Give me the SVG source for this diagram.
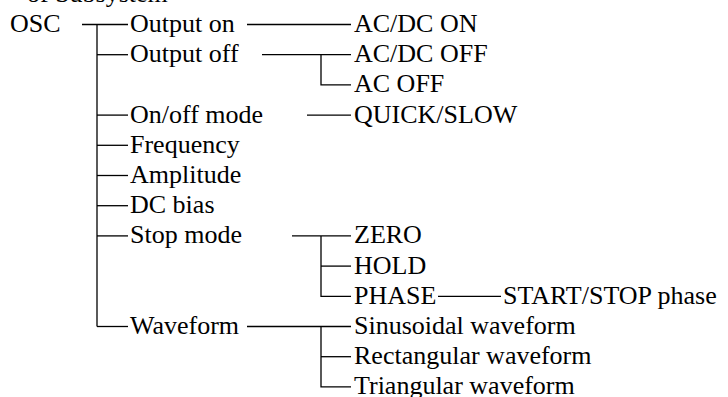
<svg xmlns="http://www.w3.org/2000/svg" width="728" height="397" viewBox="0 0 728 397">
<style>
.t{font-family:'Liberation Serif','Times New Roman',serif;font-size:26px;fill:#000}
.c line,.c path{stroke:#000;stroke-width:1.3;fill:none}
</style>
<rect width="728" height="397" fill="#fff"/>
<g class="t">
<text x="27" y="1.5">of Subsystem</text>
</g>
<g class="c" id="connectors">
<line x1="82" y1="24.5" x2="128" y2="24.5"/>
<line x1="97" y1="24.5" x2="97" y2="326.5"/>
<line x1="97" y1="54.7" x2="128" y2="54.7"/>
<line x1="97" y1="115.1" x2="128" y2="115.1"/>
<line x1="97" y1="145.3" x2="128" y2="145.3"/>
<line x1="97" y1="175.5" x2="128" y2="175.5"/>
<line x1="97" y1="205.7" x2="128" y2="205.7"/>
<line x1="97" y1="235.9" x2="128" y2="235.9"/>
<line x1="97" y1="326.5" x2="128" y2="326.5"/>
<line x1="247" y1="24.5" x2="351" y2="24.5"/>
<line x1="262" y1="54.7" x2="351" y2="54.7"/>
<path d="M321 54.7V84.9H351"/>
<line x1="307" y1="115.1" x2="351" y2="115.1"/>
<line x1="292" y1="235.9" x2="351" y2="235.9"/>
<path d="M321 235.9V296.3H351"/>
<line x1="321" y1="266.1" x2="351" y2="266.1"/>
<line x1="438" y1="296.3" x2="501" y2="296.3"/>
<line x1="247" y1="326.5" x2="351" y2="326.5"/>
<path d="M321 326.5V386.9H351"/>
<line x1="321" y1="356.7" x2="351" y2="356.7"/>
</g>
<g class="t">
<g id="osc"><text x="10" y="32">OSC</text></g>
<g id="output-on"><text x="130" y="32">Output on</text></g>
<g id="output-off"><text x="130" y="62.2">Output off</text></g>
<g id="onoff-mode"><text x="130" y="122.6">On/off mode</text></g>
<g id="frequency"><text x="130" y="152.8">Frequency</text></g>
<g id="amplitude"><text x="130" y="183">Amplitude</text></g>
<g id="dc-bias"><text x="130" y="213.2">DC bias</text></g>
<g id="stop-mode"><text x="130" y="243.4">Stop mode</text></g>
<g id="waveform"><text x="130" y="334">Waveform</text></g>
<g id="acdc-on"><text x="354" y="32">AC/DC ON</text></g>
<g id="acdc-off"><text x="354" y="62.2">AC/DC OFF</text></g>
<g id="ac-off"><text x="354" y="92.4">AC OFF</text></g>
<g id="quick-slow"><text x="354" y="122.6">QUICK/SLOW</text></g>
<g id="zero"><text x="354" y="243.4">ZERO</text></g>
<g id="hold"><text x="354" y="273.6">HOLD</text></g>
<g id="phase"><text x="354" y="303.8">PHASE</text></g>
<g id="start-stop"><text x="503" y="303.8">START/STOP phase</text></g>
<g id="sinusoidal"><text x="354" y="334">Sinusoidal waveform</text></g>
<g id="rectangular"><text x="354" y="364.2">Rectangular waveform</text></g>
<g id="triangular"><text x="354" y="394.4">Triangular waveform</text></g>
</g>
</svg>
